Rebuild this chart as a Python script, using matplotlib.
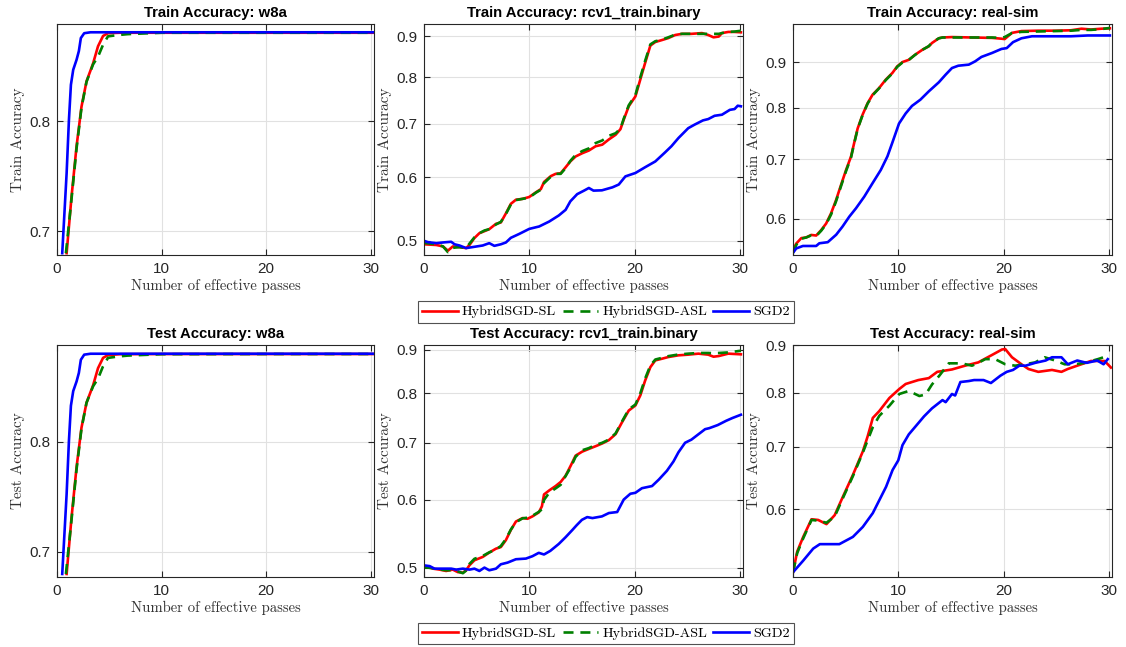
import matplotlib.pyplot as plt
from matplotlib.lines import Line2D
from matplotlib.ticker import FixedLocator, NullLocator, FuncFormatter, NullFormatter

methods = ['HybridSGD-SL', 'HybridSGD-ASL', 'SGD2']
datasets = ['w8a', 'rcv1_train.binary', 'real-sim']

# ---------------- train accuracy: w8a ----------------
tr_w8a_sl_x = [0.92, 1.39, 1.87, 2.34, 2.82, 3.45, 3.92, 4.4, 4.87, 6.0, 10, 20, 30.3]
tr_w8a_sl_y = [0.6815, 0.730, 0.776, 0.814, 0.8395, 0.858, 0.876, 0.887, 0.890, 0.8905, 0.8905, 0.8905, 0.8905]
tr_w8a_asl_x = [0.85, 1.39, 1.87, 2.34, 2.82, 3.45, 3.92, 4.4, 4.87, 5.82, 6.77, 10, 20, 30.3]
tr_w8a_asl_y = [0.6815, 0.728, 0.774, 0.813, 0.839, 0.857, 0.865, 0.8776, 0.8866, 0.888, 0.889, 0.8905, 0.8905, 0.8905]
tr_w8a_sgd_x = [0.5, 0.92, 1.14, 1.33, 1.55, 1.87, 2.09, 2.28, 2.6, 3.2, 10, 20, 30.3]
tr_w8a_sgd_y = [0.6815, 0.751, 0.801, 0.836, 0.8514, 0.8618, 0.8709, 0.8848, 0.890, 0.891, 0.891, 0.891, 0.891]

# ---------------- test accuracy: w8a ----------------
te_w8a_sl_x = [0.92, 1.39, 1.87, 2.34, 2.82, 3.45, 3.92, 4.4, 4.87, 6.0, 10, 20, 30.3]
te_w8a_sl_y = [0.6815, 0.730, 0.776, 0.814, 0.839, 0.857, 0.875, 0.886, 0.889, 0.8900, 0.8902, 0.8902, 0.8902]
te_w8a_asl_x = [0.85, 1.39, 1.87, 2.34, 2.82, 3.45, 3.92, 4.4, 4.87, 5.82, 6.77, 10, 20, 30.3]
te_w8a_asl_y = [0.6815, 0.728, 0.774, 0.813, 0.839, 0.856, 0.864, 0.877, 0.886, 0.8875, 0.8885, 0.8900, 0.8902, 0.8902]
te_w8a_sgd_x = [0.5, 0.92, 1.14, 1.33, 1.55, 1.87, 2.09, 2.28, 2.6, 3.2, 10, 20, 30.3]
te_w8a_sgd_y = [0.6815, 0.751, 0.801, 0.836, 0.851, 0.861, 0.870, 0.884, 0.8895, 0.8905, 0.8905, 0.8905, 0.8905]

# ---------------- train accuracy: rcv1_train.binary ----------------
tr_rcv1_hyb_x = [0, 1.17, 1.8, 2.27, 2.74, 3.37, 4.0, 4.32, 4.79, 5.26,
                 5.74, 6.2, 6.84, 7.3, 7.78, 8.25, 8.73, 9.36, 9.99, 10.62,
                 11.1, 11.4, 12.04, 12.5, 12.98, 13.45, 13.9, 14.4, 15.03, 15.66,
                 16.3, 16.93, 17.56, 18.2, 18.66, 18.97, 19.45, 20.08, 20.55, 21.0,
                 21.5, 21.97, 22.6, 23.2, 23.86, 24.5, 25.4, 26.4, 27.0, 27.5,
                 28.0, 28.3, 28.9, 29.5, 30.1]
tr_rcv1_sl_y = [0.495, 0.494, 0.492, 0.486, 0.492, 0.491, 0.4896, 0.494, 0.504, 0.511,
                0.514, 0.517, 0.525, 0.527, 0.541, 0.556, 0.5626, 0.564, 0.567, 0.5746,
                0.58, 0.592, 0.602, 0.606, 0.607, 0.6175, 0.628, 0.637, 0.643, 0.648,
                0.656, 0.659, 0.669, 0.678, 0.689, 0.708, 0.736, 0.757, 0.795, 0.833,
                0.876, 0.885, 0.89, 0.895, 0.903, 0.906, 0.906, 0.908, 0.903, 0.897,
                0.899, 0.908, 0.911, 0.911, 0.910]
tr_rcv1_asl_y = [0.497, 0.495, 0.492, 0.484, 0.490, 0.491, 0.4896, 0.496, 0.505, 0.511,
                 0.515, 0.517, 0.524, 0.528, 0.540, 0.555, 0.562, 0.564, 0.566, 0.574,
                 0.579, 0.590, 0.601, 0.606, 0.606, 0.616, 0.629, 0.640, 0.647, 0.652,
                 0.662, 0.667, 0.676, 0.681, 0.690, 0.710, 0.738, 0.760, 0.800, 0.838,
                 0.879, 0.887, 0.891, 0.897, 0.904, 0.906, 0.906, 0.906, 0.906, 0.906,
                 0.906, 0.908, 0.911, 0.912, 0.914]
tr_rcv1_sgd_x = [0, 0.38, 1.17, 1.8, 2.58, 2.9, 3.37, 4.0, 4.6, 5.58,
                 6.2, 6.68, 7.3, 7.78, 8.25, 9.05, 10.0, 10.94, 11.9, 12.8,
                 13.45, 13.9, 14.55, 15.2, 15.66, 16.1, 16.9, 17.9, 18.5, 19.13,
                 20.08, 21.0, 21.97, 22.9, 23.5, 24.17, 25.1, 25.7, 26.5, 27.0,
                 27.6, 28.3, 29.05, 29.5, 29.8, 30.1]
tr_rcv1_sgd_y = [0.5, 0.498, 0.4966, 0.4976, 0.4986, 0.495, 0.4933, 0.4896, 0.491, 0.4933,
                 0.4966, 0.4928, 0.495, 0.4976, 0.5043, 0.510, 0.5174, 0.521, 0.5285, 0.5377,
                 0.5465, 0.560, 0.5717, 0.5775, 0.5819, 0.5775, 0.578, 0.583, 0.5877, 0.6016,
                 0.6075, 0.6176, 0.628, 0.6446, 0.656, 0.6717, 0.691, 0.698, 0.7066, 0.7093,
                 0.716, 0.7182, 0.7283, 0.730, 0.737, 0.7358]

# ---------------- test accuracy: rcv1_train.binary ----------------
te_rcv1_hyb_x = [0, 0.38, 0.85, 1.48, 2.1, 2.74, 3.2, 3.69, 4.0, 4.32,
                 4.79, 5.58, 6.2, 6.84, 7.3, 7.78, 8.25, 8.73, 9.36, 9.83,
                 10.3, 10.9, 11.2, 11.4, 11.9, 12.5, 12.98, 13.45, 13.93, 14.4,
                 15.03, 15.66, 16.3, 16.93, 17.56, 18.2, 18.8, 19.45, 20.08, 20.55,
                 21.0, 21.5, 21.97, 22.6, 23.2, 24.17, 25.1, 26.06, 27.0, 27.5,
                 28.0, 28.9, 30.1]
te_rcv1_sl_y = [0.502, 0.501, 0.4986, 0.4973, 0.4955, 0.4973, 0.494, 0.4932, 0.4964, 0.5032,
                0.51, 0.5146, 0.5207, 0.5262, 0.5285, 0.5385, 0.5534, 0.5661, 0.5714, 0.5703,
                0.574, 0.5802, 0.5898, 0.609, 0.6157, 0.6229, 0.6298, 0.6405, 0.6579, 0.6761,
                0.6835, 0.6885, 0.6935, 0.6987, 0.705, 0.7165, 0.7394, 0.7635, 0.774, 0.7954,
                0.8274, 0.8582, 0.874, 0.8779, 0.8819, 0.886, 0.8876, 0.89, 0.8876, 0.8827,
                0.8843, 0.89, 0.8884]
te_rcv1_asl_y = [0.500, 0.500, 0.499, 0.4975, 0.4965, 0.4965, 0.495, 0.4925, 0.496, 0.505,
                 0.512, 0.516, 0.521, 0.525, 0.530, 0.540, 0.554, 0.565, 0.571, 0.572,
                 0.575, 0.581, 0.585, 0.600, 0.612, 0.619, 0.625, 0.640, 0.655, 0.674,
                 0.686, 0.690, 0.696, 0.700, 0.706, 0.718, 0.741, 0.766, 0.776, 0.800,
                 0.832, 0.862, 0.876, 0.880, 0.884, 0.888, 0.890, 0.8916, 0.8916, 0.8910,
                 0.8916, 0.893, 0.897]
te_rcv1_sgd_x = [0, 0.54, 1.0, 1.8, 2.58, 3.06, 3.69, 4.32, 4.79, 5.26,
                 5.74, 6.2, 6.84, 7.3, 7.94, 8.73, 9.68, 10.3, 10.9, 11.4,
                 12.0, 12.8, 13.45, 14.1, 14.5, 15.0, 15.5, 16.0, 16.9, 17.56,
                 18.35, 18.97, 19.6, 20.08, 20.7, 21.66, 22.3, 23.07, 23.7, 24.17,
                 24.8, 25.4, 26.06, 26.7, 27.1, 27.9, 28.7, 29.3, 30.1]
te_rcv1_sgd_y = [0.503, 0.502, 0.4986, 0.4986, 0.4986, 0.4973, 0.4986, 0.4973, 0.4986, 0.4955,
                 0.5, 0.4964, 0.4986, 0.5045, 0.5068, 0.5114, 0.5123, 0.5156, 0.5203, 0.518,
                 0.5231, 0.5329, 0.5427, 0.5535, 0.5605, 0.5687, 0.5729, 0.5714, 0.574, 0.5792,
                 0.5808, 0.6006, 0.6101, 0.6117, 0.6193, 0.6229, 0.6338, 0.649, 0.6657, 0.6823,
                 0.7, 0.7059, 0.7161, 0.7261, 0.7281, 0.7342, 0.7427, 0.7483, 0.7549]

# ---------------- train accuracy: real-sim ----------------
tr_real_hyb_x = [0, 0.31, 0.79, 1.26, 1.73, 2.2, 2.68, 3.15, 3.62, 4.09,
                 4.56, 5.04, 5.51, 5.82, 6.14, 6.6, 7.08, 7.56, 8.18, 8.81,
                 9.44, 9.9, 10.4, 11.0, 11.6, 12.3, 12.9, 13.2, 13.85, 14.2,
                 15.1, 17.0, 18.9, 19.8, 20.1, 20.8, 21.7, 23.3, 24.9, 26.4,
                 27.4, 28.3, 29.3, 30.1]
tr_real_sl_y = [0.554, 0.563, 0.571, 0.572, 0.5757, 0.5748, 0.583, 0.593, 0.609, 0.630,
                0.655, 0.681, 0.705, 0.731, 0.758, 0.785, 0.809, 0.8272, 0.8416, 0.86,
                0.875, 0.89, 0.9, 0.9052, 0.9172, 0.9292, 0.9373, 0.9454, 0.957, 0.959,
                0.960, 0.959, 0.958, 0.956, 0.955, 0.9705, 0.975, 0.976, 0.976, 0.977,
                0.981, 0.979, 0.981, 0.982]
tr_real_asl_y = [0.550, 0.561, 0.570, 0.572, 0.575, 0.574, 0.582, 0.592, 0.607, 0.628,
                 0.653, 0.679, 0.703, 0.730, 0.757, 0.784, 0.808, 0.826, 0.841, 0.859,
                 0.874, 0.889, 0.899, 0.905, 0.917, 0.929, 0.938, 0.946, 0.957, 0.959,
                 0.959, 0.959, 0.959, 0.958, 0.960, 0.970, 0.973, 0.974, 0.975, 0.976,
                 0.978, 0.978, 0.980, 0.983]
tr_real_sgd_x = [0, 0.31, 0.94, 2.2, 2.5, 3.3, 4.1, 4.7, 5.35, 5.98,
                 6.77, 7.55, 8.34, 8.97, 9.44, 10.07, 10.7, 11.3, 12.1, 12.9,
                 13.85, 14.5, 15.1, 15.7, 16.7, 17.3, 17.9, 18.9, 19.8, 20.3,
                 20.9, 21.7, 22.7, 24.9, 26.4, 28.0, 30.1]
tr_real_sgd_y = [0.5497, 0.556, 0.5595, 0.5595, 0.5634, 0.565, 0.576, 0.5882, 0.6036, 0.6167,
                 0.6356, 0.6579, 0.681, 0.7053, 0.731, 0.7678, 0.788, 0.8035, 0.8166, 0.8344,
                 0.8541, 0.8712, 0.8862, 0.8915, 0.894, 0.9016, 0.912, 0.9213, 0.931, 0.933,
                 0.9475, 0.957, 0.962, 0.962, 0.962, 0.964, 0.964]

# ---------------- test accuracy: real-sim ----------------
te_real_sl_x = [0, 0.4, 0.97, 1.76, 2.39, 3.18, 3.96, 4.75, 5.69, 6.63,
                7.1, 7.58, 8.2, 9.15, 10.1, 10.7, 11.9, 12.9, 13.7, 15.1,
                16.35, 17.6, 18.9, 19.85, 20.16, 20.8, 21.7, 22.36, 23.3, 24.6,
                25.5, 26.1, 27.0, 28.3, 29.6, 30.2]
te_real_sl_y = [0.513, 0.540, 0.560, 0.585, 0.584, 0.578, 0.591, 0.619, 0.653, 0.692,
                0.719, 0.752, 0.765, 0.790, 0.808, 0.818, 0.826, 0.830, 0.843, 0.848,
                0.856, 0.863, 0.879, 0.891, 0.892, 0.874, 0.859, 0.849, 0.843, 0.847,
                0.843, 0.849, 0.856, 0.866, 0.866, 0.852]
te_real_asl_x = [0, 0.4, 0.97, 1.76, 2.39, 3.18, 3.96, 4.75, 5.69, 6.63,
                 7.1, 7.58, 8.2, 9.15, 10.1, 11.0, 12.0, 12.6, 13.2, 13.9,
                 14.8, 16.0, 17.0, 17.33, 18.27, 19.2, 20.16, 21.1, 22.05, 23.0,
                 23.9, 24.9, 25.8, 26.8, 27.7, 28.96, 29.9]
te_real_asl_y = [0.513, 0.538, 0.558, 0.584, 0.583, 0.580, 0.589, 0.617, 0.651, 0.690,
                 0.712, 0.735, 0.756, 0.775, 0.798, 0.804, 0.794, 0.797, 0.817, 0.835,
                 0.861, 0.861, 0.856, 0.859, 0.870, 0.870, 0.859, 0.856, 0.859, 0.863,
                 0.874, 0.867, 0.859, 0.859, 0.862, 0.870, 0.877]
te_real_sgd_x = [0, 0.97, 1.92, 2.55, 4.4, 5.69, 6.63, 7.58, 8.84, 9.46,
                 10.0, 10.4, 11.0, 11.8, 12.45, 13.2, 14.2, 14.5, 15.1, 15.4,
                 15.9, 16.7, 17.2, 18.1, 18.8, 19.7, 20.3, 20.9, 21.5, 22.1,
                 23.0, 24.0, 24.6, 25.5, 26.1, 27.0, 27.9, 28.9, 29.5, 29.9]
te_real_sgd_y = [0.513, 0.528, 0.544, 0.550, 0.550, 0.560, 0.574, 0.594, 0.634, 0.661,
                 0.677, 0.703, 0.722, 0.740, 0.755, 0.770, 0.786, 0.782, 0.798, 0.795,
                 0.822, 0.824, 0.826, 0.826, 0.820, 0.835, 0.843, 0.847, 0.856, 0.856,
                 0.862, 0.867, 0.874, 0.874, 0.859, 0.867, 0.862, 0.867, 0.859, 0.870]

# y limits / ticks per panel (log scale, as in the matlab figure)
ylims = {
    ('Train', 'w8a'): (0.680, 0.900),
    ('Train', 'rcv1_train.binary'): (0.480, 0.932),
    ('Train', 'real-sim'): (0.5466, 0.993),
    ('Test', 'w8a'): (0.679, 0.900),
    ('Test', 'rcv1_train.binary'): (0.4875, 0.911),
    ('Test', 'real-sim'): (0.507, 0.901),
}
yticks = {
    'w8a': [0.7, 0.8],
    'rcv1_train.binary': [0.5, 0.6, 0.7, 0.8, 0.9],
    'real-sim': [0.6, 0.7, 0.8, 0.9],
}

curves = {
    ('Train', 'w8a'): [(tr_w8a_sl_x, tr_w8a_sl_y), (tr_w8a_asl_x, tr_w8a_asl_y), (tr_w8a_sgd_x, tr_w8a_sgd_y)],
    ('Train', 'rcv1_train.binary'): [(tr_rcv1_hyb_x, tr_rcv1_sl_y), (tr_rcv1_hyb_x, tr_rcv1_asl_y), (tr_rcv1_sgd_x, tr_rcv1_sgd_y)],
    ('Train', 'real-sim'): [(tr_real_hyb_x, tr_real_sl_y), (tr_real_hyb_x, tr_real_asl_y), (tr_real_sgd_x, tr_real_sgd_y)],
    ('Test', 'w8a'): [(te_w8a_sl_x, te_w8a_sl_y), (te_w8a_asl_x, te_w8a_asl_y), (te_w8a_sgd_x, te_w8a_sgd_y)],
    ('Test', 'rcv1_train.binary'): [(te_rcv1_hyb_x, te_rcv1_sl_y), (te_rcv1_hyb_x, te_rcv1_asl_y), (te_rcv1_sgd_x, te_rcv1_sgd_y)],
    ('Test', 'real-sim'): [(te_real_sl_x, te_real_sl_y), (te_real_asl_x, te_real_asl_y), (te_real_sgd_x, te_real_sgd_y)],
}

colors = ['#ff0000', '#008000', '#0000ff']
styles = ['-', '--', '-']
lw = 1.9
dash = [3.8, 2.6]

W, H = 1126, 647
fig = plt.figure(figsize=(W / 100, H / 100), dpi=100)

col_lr = [(57, 374), (424, 743), (793, 1112)]
row_tb = [(24, 255), (345, 577)]
sans = 'Liberation Sans'
serif = 'cmr10'
dark = '#262626'

for r, split in enumerate(['Train', 'Test']):
    for c, ds in enumerate(datasets):
        l, rr = col_lr[c]
        t, b = row_tb[r]
        ax = fig.add_axes([l / W, 1 - b / H, (rr - l) / W, (b - t) / H])
        for (xs, ys), col, ls in zip(curves[(split, ds)], colors, styles):
            line, = ax.plot(xs, ys, color=col, ls=ls, lw=lw)
            if ls == '--':
                line.set_dashes(dash)
        ax.set_yscale('log')
        ax.set_xlim(0, 30.3)
        ax.set_ylim(*ylims[(split, ds)])
        ax.yaxis.set_major_locator(FixedLocator(yticks[ds]))
        ax.yaxis.set_minor_locator(NullLocator())
        ax.yaxis.set_major_formatter(FuncFormatter(lambda v, p: f'{v:g}'))
        ax.yaxis.set_minor_formatter(NullFormatter())
        ax.set_xticks([0, 10, 20, 30])
        ax.grid(True, color='#e1e1e1', lw=0.8)
        ax.set_axisbelow(True)
        ax.tick_params(direction='in', top=True, right=True, length=4, width=0.8,
                       colors=dark, labelsize=11, pad=5)
        for lab in ax.get_xticklabels() + ax.get_yticklabels():
            lab.set_family(sans)
        for s in ax.spines.values():
            s.set_color(dark)
            s.set_linewidth(0.8)
        ax.set_title(f'{split} Accuracy: {ds}', family=sans, fontweight='bold',
                     fontsize=10.7, pad=5)
        ax.set_xlabel('Number of effective passes', family=serif, fontsize=10.6,
                      color='#333333', labelpad=2)
        ax.set_ylabel(f'{split} Accuracy', family=serif, fontsize=11,
                      color='#333333', labelpad=3)

handles = []
for col, ls in zip(colors, styles):
    h = Line2D([], [], color=col, ls=ls, lw=lw)
    if ls == '--':
        h.set_dashes(dash)
    handles.append(h)

for yc in [312, 633.5]:
    leg = fig.legend(handles, methods, loc='center', bbox_to_anchor=(606 / W, 1 - yc / H),
                     ncol=3, frameon=True, fancybox=False, edgecolor=dark,
                     prop={'family': serif, 'size': 10.2}, handlelength=2.5,
                     handletextpad=0.3, columnspacing=0.45, borderpad=0.3,
                     borderaxespad=0)
    leg.get_frame().set_linewidth(0.8)

fig.savefig('out.png', dpi=100, facecolor='white')
